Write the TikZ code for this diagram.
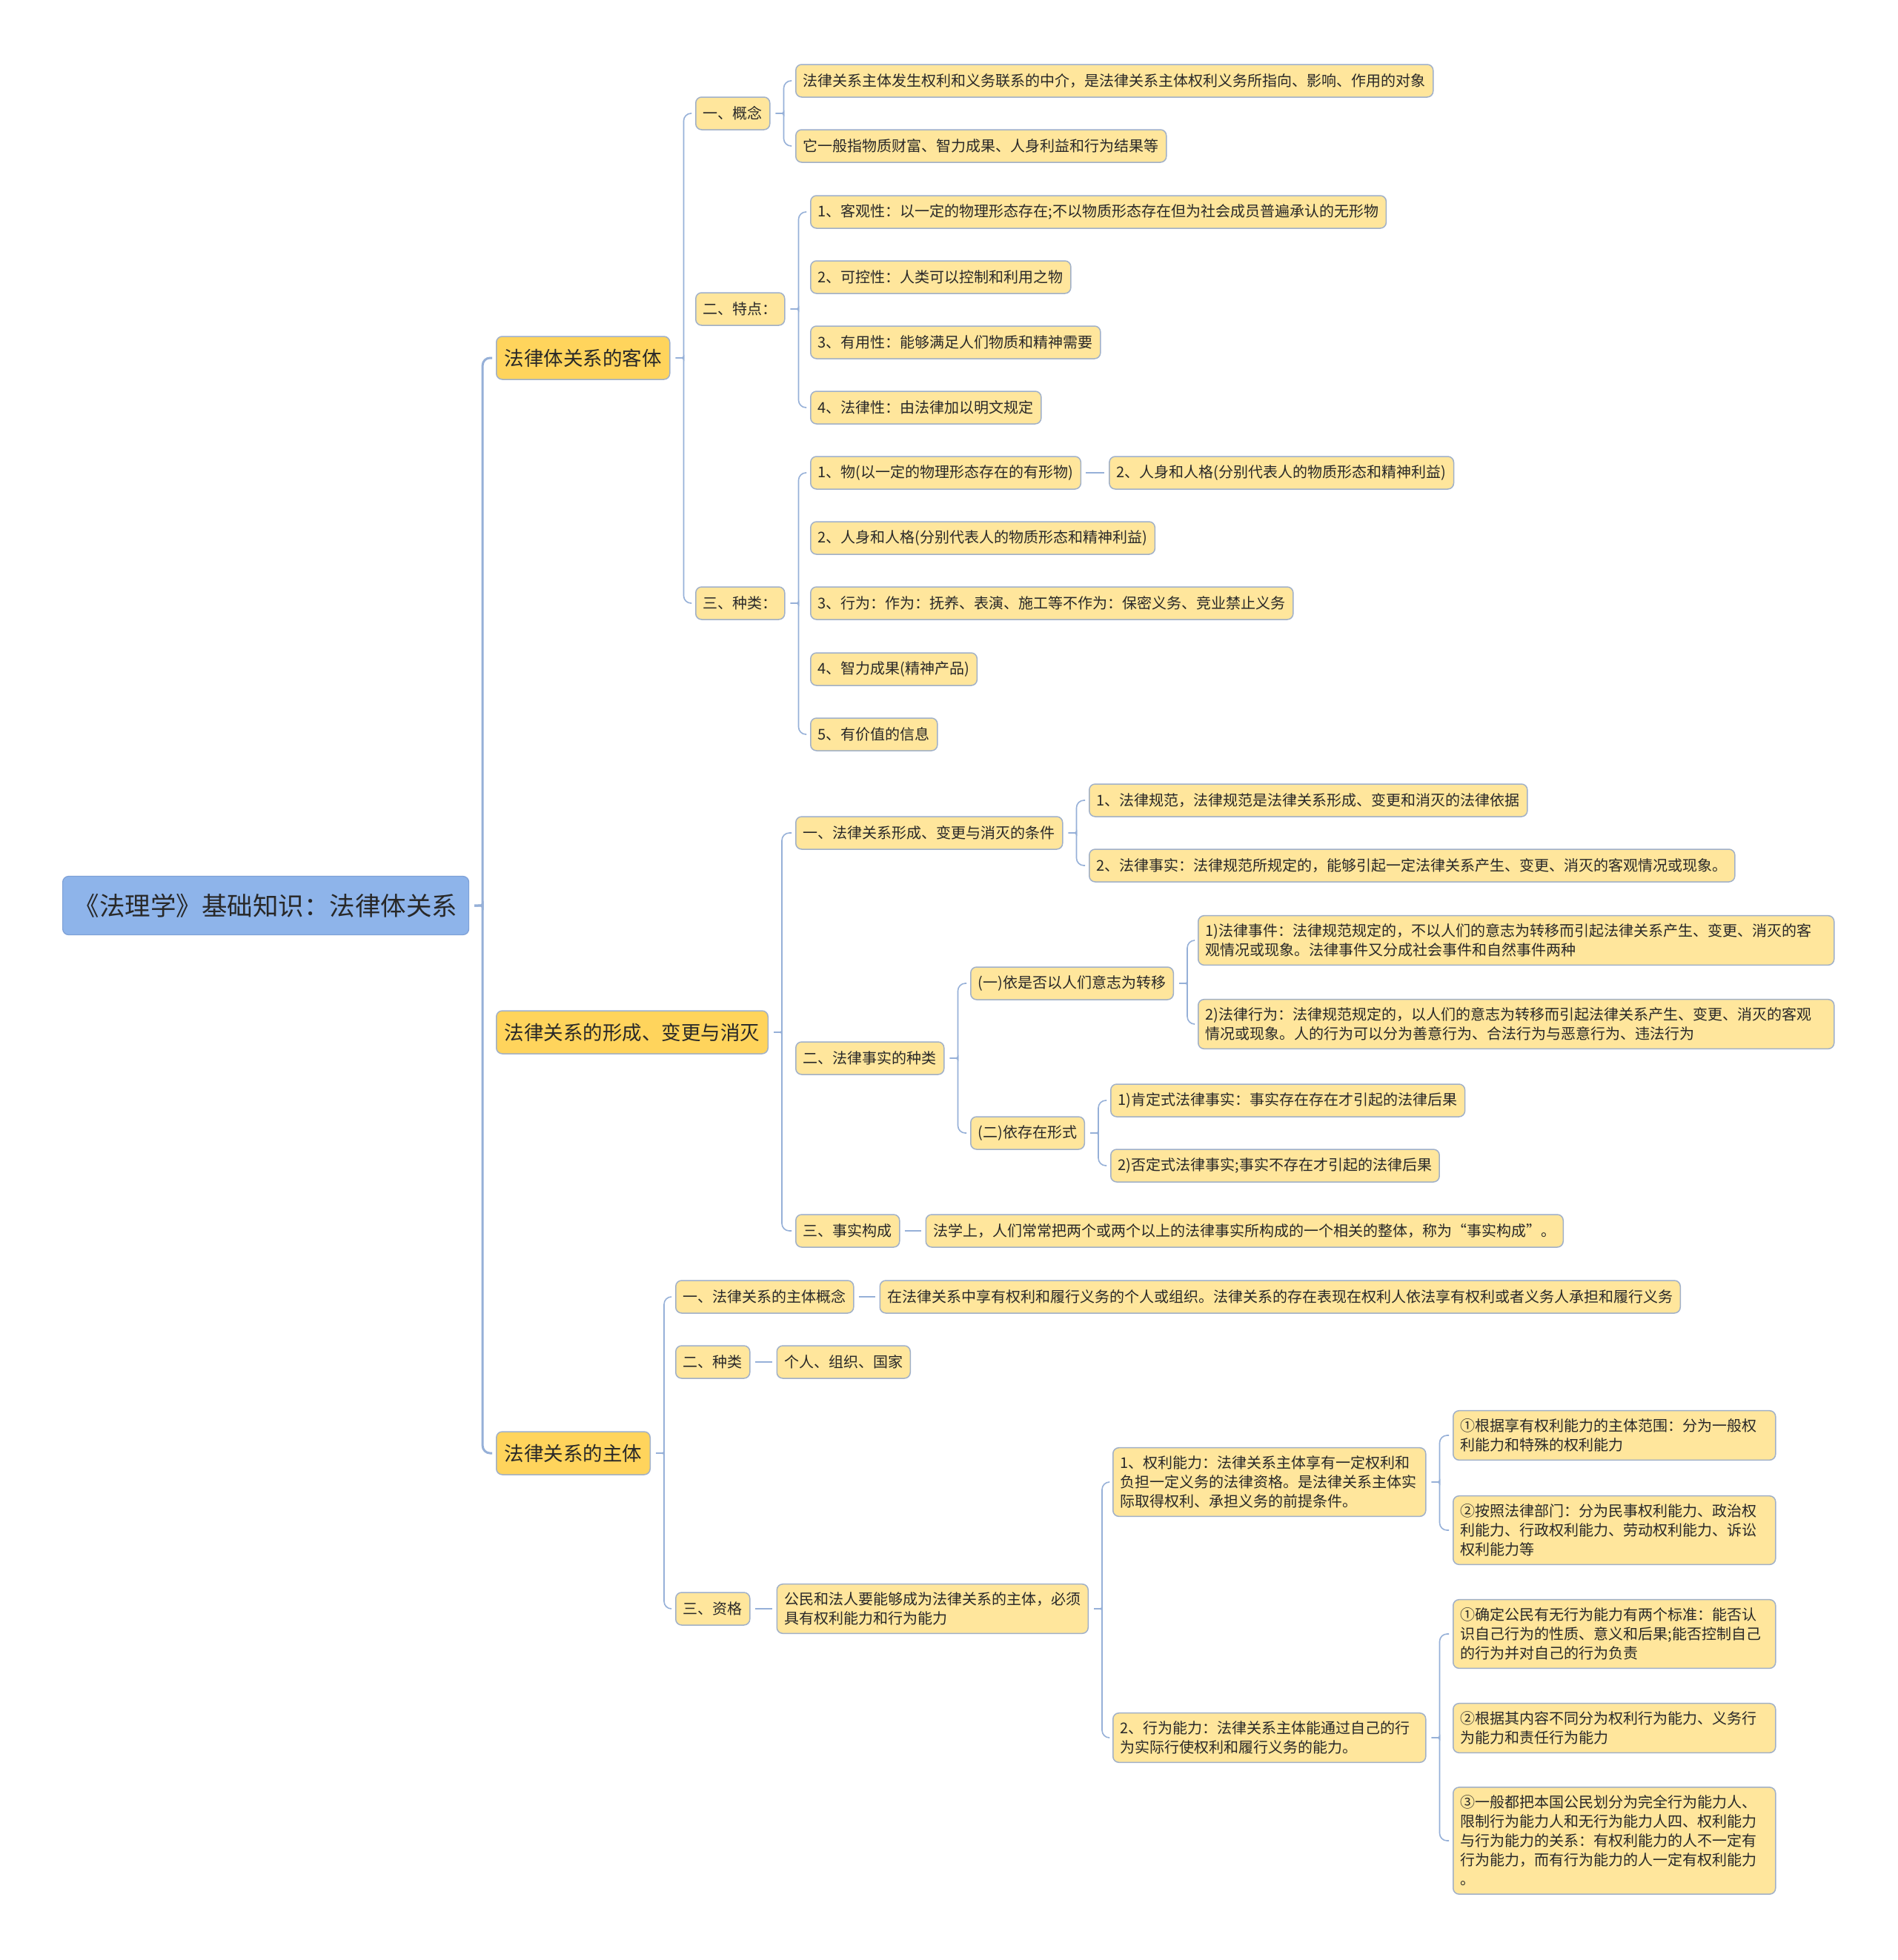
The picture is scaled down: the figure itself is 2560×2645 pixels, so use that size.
\documentclass[tikz,border=0pt]{standalone}
\usepackage{fontspec}
\setmainfont{Noto Sans CJK SC}
\usetikzlibrary{positioning,calc}
\definecolor{RootBlue}{RGB}{142,180,234}
\definecolor{RootEdge}{RGB}{125,160,215}
\definecolor{TopicGold}{RGB}{255,212,92}
\definecolor{LeafCream}{RGB}{255,230,156}
\definecolor{EdgeGray}{RGB}{160,176,200}
\definecolor{LinkBlue}{RGB}{150,176,216}
\definecolor{InkDark}{RGB}{40,40,40}

% brace from a parent to its first and last child
\newcommand{\mapbrace}[4][link]{%
  \coordinate (bsp) at ($(#2.east)+(18,0)$);
  \coordinate (btip) at ($(#2.east)+(7,0)$);
  \draw[#1,rounded corners=10pt] ($(#3.west)+(-5,0)$) -| ($(bsp)+(0,8)$) .. controls (bsp) .. (btip);
  \draw[#1,rounded corners=10pt] ($(#4.west)+(-5,0)$) -| ($(bsp)+(0,-8)$) .. controls (bsp) .. (btip);
}

\begin{document}
\begin{tikzpicture}[x=1pt, y=1pt,
  rootbox/.style={anchor=west, draw=RootEdge, fill=RootBlue, rounded corners=8pt, line width=1.2pt,
    text=InkDark, inner xsep=14pt, minimum width=548pt, minimum height=79pt, font=\fontsize{34.5}{40}\selectfont},
  topic/.style={anchor=west, draw=EdgeGray, fill=TopicGold, rounded corners=8pt, line width=1.5pt,
    text=InkDark, inner xsep=11pt, minimum height=58pt, font=\fontsize{26.5}{32}\selectfont},
  leaf/.style={anchor=west, draw=EdgeGray, fill=LeafCream, rounded corners=8pt, line width=1.5pt,
    text=InkDark, inner xsep=10pt, inner ysep=11pt, minimum height=44pt, font=\fontsize{20}{26}\selectfont},
  wrap/.style={leaf, text width=#1, align=left},
  link/.style={draw=LinkBlue, line width=1.6pt},
  trunk/.style={draw=LinkBlue, line width=3pt},
  pair/.style={link, shorten <=6pt, shorten >=6pt}
]
\fill[white] (0,0) rectangle (2560,-2645);
\useasboundingbox (0,0) rectangle (2560,-2645);

% root and main topics
\node[rootbox] (root) at (84,-1222) {《法理学》基础知识：法律体关系};
\node[topic] (obj) at (669,-483) {法律体关系的客体};
\node[topic] (chg) at (669,-1393) {法律关系的形成、变更与消灭};
\node[topic] (sub) at (669,-1961) {法律关系的主体};
\mapbrace[trunk]{root}{obj}{sub}

% 客体
\node[leaf] (obj1) at (938,-153) {一、概念};
\node[leaf] (obj2) at (938,-417) {二、特点：};
\node[leaf] (obj3) at (938,-814) {三、种类：};
\mapbrace{obj}{obj1}{obj3}

\node[leaf] (obj1a) at (1073,-109) {法律关系主体发生权利和义务联系的中介，是法律关系主体权利义务所指向、影响、作用的对象};
\node[leaf] (obj1b) at (1073,-197) {它一般指物质财富、智力成果、人身利益和行为结果等};
\mapbrace{obj1}{obj1a}{obj1b}

\node[leaf] (obj2a) at (1093,-286) {1、客观性：以一定的物理形态存在;不以物质形态存在但为社会成员普遍承认的无形物};
\node[leaf] (obj2b) at (1093,-374) {2、可控性：人类可以控制和利用之物};
\node[leaf] (obj2c) at (1093,-462) {3、有用性：能够满足人们物质和精神需要};
\node[leaf] (obj2d) at (1093,-550) {4、法律性：由法律加以明文规定};
\mapbrace{obj2}{obj2a}{obj2d}

\node[leaf] (obj3a) at (1093,-638) {1、物(以一定的物理形态存在的有形物)};
\node[leaf, right=37pt of obj3a] (obj3x) {2、人身和人格(分别代表人的物质形态和精神利益)};
\node[leaf] (obj3b) at (1093,-726) {2、人身和人格(分别代表人的物质形态和精神利益)};
\node[leaf] (obj3c) at (1093,-814) {3、行为：作为：抚养、表演、施工等不作为：保密义务、竞业禁止义务};
\node[leaf] (obj3d) at (1093,-903) {4、智力成果(精神产品)};
\node[leaf] (obj3e) at (1093,-991) {5、有价值的信息};
\mapbrace{obj3}{obj3a}{obj3e}
\draw[pair] (obj3a) -- (obj3x);

% 形成、变更与消灭
\node[leaf] (chg1) at (1073,-1124) {一、法律关系形成、变更与消灭的条件};
\node[leaf] (chg2) at (1073,-1428) {二、法律事实的种类};
\node[leaf] (chg3) at (1073,-1661) {三、事实构成};
\mapbrace{chg}{chg1}{chg3}

\node[leaf] (chg1a) at (1469,-1080) {1、法律规范，法律规范是法律关系形成、变更和消灭的法律依据};
\node[leaf] (chg1b) at (1469,-1168) {2、法律事实：法律规范所规定的，能够引起一定法律关系产生、变更、消灭的客观情况或现象。};
\mapbrace{chg1}{chg1a}{chg1b}

\node[leaf] (chg2a) at (1309,-1327) {(一)依是否以人们意志为转移};
\node[leaf] (chg2b) at (1309,-1529) {(二)依存在形式};
\mapbrace{chg2}{chg2a}{chg2b}

\node[wrap=838pt] (chg2a1) at (1616,-1269) {1)法律事件：法律规范规定的，不以人们的意志为转移而引起法律关系产生、变更、消灭的客\\观情况或现象。法律事件又分成社会事件和自然事件两种};
\node[wrap=838pt] (chg2a2) at (1616,-1382) {2)法律行为：法律规范规定的，以人们的意志为转移而引起法律关系产生、变更、消灭的客观\\情况或现象。人的行为可以分为善意行为、合法行为与恶意行为、违法行为};
\mapbrace{chg2a}{chg2a1}{chg2a2}

\node[leaf] (chg2b1) at (1498,-1485) {1)肯定式法律事实：事实存在存在才引起的法律后果};
\node[leaf] (chg2b2) at (1498,-1573) {2)否定式法律事实;事实不存在才引起的法律后果};
\mapbrace{chg2b}{chg2b1}{chg2b2}

\node[leaf, right=34pt of chg3] (chg3a) {法学上，人们常常把两个或两个以上的法律事实所构成的一个相关的整体，称为“事实构成”。};
\draw[pair] (chg3) -- (chg3a);

% 主体
\node[leaf] (sub1) at (911,-1750) {一、法律关系的主体概念};
\node[leaf] (sub2) at (911,-1838) {二、种类};
\node[leaf] (sub3) at (911,-2171) {三、资格};
\mapbrace{sub}{sub1}{sub3}

\node[leaf, right=34pt of sub1] (sub1a) {在法律关系中享有权利和履行义务的个人或组织。法律关系的存在表现在权利人依法享有权利或者义务人承担和履行义务};
\draw[pair] (sub1) -- (sub1a);
\node[leaf, right=35pt of sub2] (sub2a) {个人、组织、国家};
\draw[pair] (sub2) -- (sub2a);
\node[wrap=400pt, right=35pt of sub3] (sub3a) {公民和法人要能够成为法律关系的主体，必须\\具有权利能力和行为能力};
\draw[pair] (sub3) -- (sub3a);

\node[wrap=402pt] (cap1) at (1501,-2000) {1、权利能力：法律关系主体享有一定权利和\\负担一定义务的法律资格。是法律关系主体实\\际取得权利、承担义务的前提条件。};
\node[wrap=402pt] (cap2) at (1501,-2345) {2、行为能力：法律关系主体能通过自己的行\\为实际行使权利和履行义务的能力。};
\mapbrace{sub3a}{cap1}{cap2}

\node[wrap=415pt] (cap1a) at (1960,-1937) {①根据享有权利能力的主体范围：分为一般权\\利能力和特殊的权利能力};
\node[wrap=415pt] (cap1b) at (1960,-2065) {②按照法律部门：分为民事权利能力、政治权\\利能力、行政权利能力、劳动权利能力、诉讼\\权利能力等};
\mapbrace{cap1}{cap1a}{cap1b}

\node[wrap=415pt] (cap2a) at (1960,-2205) {①确定公民有无行为能力有两个标准：能否认\\识自己行为的性质、意义和后果;能否控制自己\\的行为并对自己的行为负责};
\node[wrap=415pt] (cap2b) at (1960,-2332) {②根据其内容不同分为权利行为能力、义务行\\为能力和责任行为能力};
\node[wrap=415pt] (cap2c) at (1960,-2484) {③一般都把本国公民划分为完全行为能力人、\\限制行为能力人和无行为能力人四、权利能力\\与行为能力的关系：有权利能力的人不一定有\\行为能力，而有行为能力的人一定有权利能力\\。};
\mapbrace{cap2}{cap2a}{cap2c}
\end{tikzpicture}
\end{document}
